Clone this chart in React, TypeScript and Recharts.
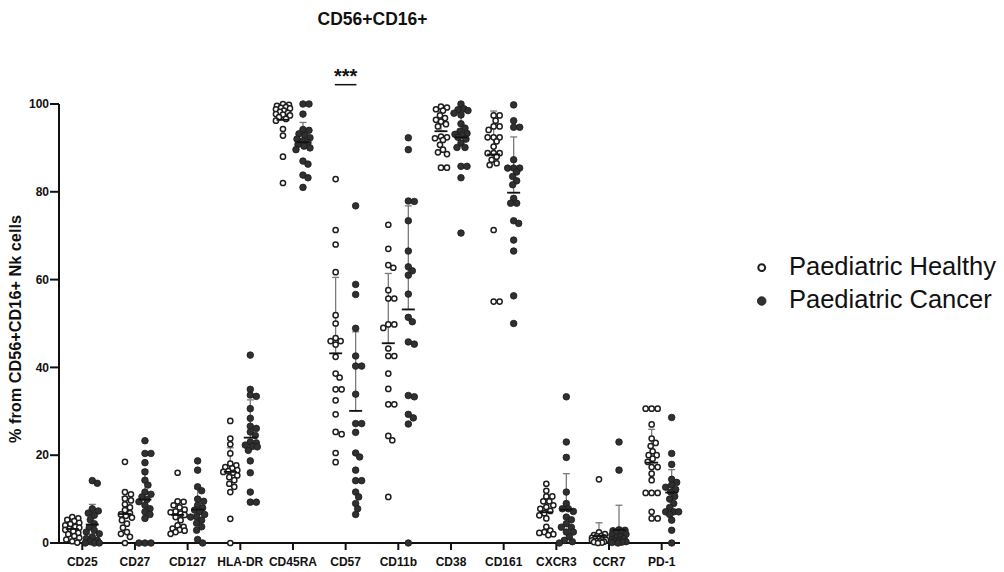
import React from 'react';
import { ScatterChart, Scatter, XAxis, YAxis, ErrorBar, ReferenceLine } from 'recharts';

const categories = ['CD25', 'CD27', 'CD127', 'HLA-DR', 'CD45RA', 'CD57', 'CD11b', 'CD38', 'CD161', 'CXCR3', 'CCR7', 'PD-1'];
const seriesNames = ['Paediatric Healthy', 'Paediatric Cancer'];
const chartTitle = 'CD56+CD16+';
const yAxisLabel = '% from CD56+CD16+ Nk cells';
const yTicks = [0, 20, 40, 60, 80, 100];
const significanceLabel = '***';
const significanceCategory = 5;

const healthyValues: number[][] = [
  [5.9, 5.6, 5.3, 5.0, 4.6, 4.3, 4.0, 3.7, 3.5, 3.2, 3.0, 2.7, 2.3, 2.0, 1.6, 1.2, 0.8, 0.4, 0.1],
  [18.5, 11.6, 11.1, 10.1, 9.7, 8.8, 8.1, 7.5, 6.8, 6.5, 6.2, 5.8, 5.2, 4.4, 3.5, 2.5, 2.1, 1.4, 0],
  [16.0, 9.5, 9.4, 8.6, 8.1, 7.6, 7.2, 7.0, 6.7, 6.4, 5.9, 5.2, 4.0, 3.7, 3.3, 3.0, 2.8, 2.5, 2.1],
  [27.8, 23.8, 22.5, 20.4, 18.1, 17.7, 17.3, 17.0, 16.6, 16.4, 16.2, 16.0, 15.4, 15.0, 14.3, 13.5, 12.8, 11.6, 5.5, 0],
  [100, 99.8, 99.6, 99.3, 99.1, 99.0, 98.8, 98.5, 98.2, 98.0, 97.7, 97.6, 97.4, 97.0, 96.6, 96.2, 94.3, 92.8, 88.0, 82.0],
  [82.9, 71.3, 68.0, 61.7, 51.9, 50.0, 46.7, 46.0, 46.0, 45.2, 42.4, 38.6, 37.7, 35.0, 35.0, 32.5, 29.3, 25.3, 24.8, 20.5, 18.4],
  [72.5, 67.0, 63.3, 62.7, 57.6, 55.7, 55.7, 49.8, 49.8, 49.0, 44.3, 42.6, 42.6, 38.6, 35.1, 31.6, 31.6, 24.4, 23.4, 10.5],
  [99.4, 99.2, 98.8, 98.5, 97.4, 96.8, 96.4, 96.0, 95.4, 94.9, 92.6, 92.4, 92.2, 91.8, 90.7, 89.6, 89.0, 88.6, 85.5, 85.5],
  [97.4, 97.4, 96.2, 94.9, 94.9, 94.1, 92.4, 92.4, 92.4, 91.5, 90.3, 88.8, 88.8, 88.8, 88.0, 87.3, 86.5, 86.1, 71.3, 55.0, 55.0],
  [13.5, 11.9, 10.6, 10.6, 9.5, 9.5, 8.6, 8.2, 7.8, 7.3, 6.8, 6.3, 5.6, 3.7, 2.8, 2.5, 2.3, 2.0, 1.8],
  [14.5, 2.4, 2.0, 1.8, 1.6, 1.5, 1.3, 1.2, 1.0, 0.9, 0.8, 0.7, 0.6, 0.5, 0.4, 0.3, 0.2, 0.1, 0],
  [30.6, 30.6, 30.6, 27.0, 23.8, 22.8, 22.1, 20.9, 20.0, 20.0, 19.2, 18.5, 17.3, 17.3, 15.8, 14.3, 11.4, 11.4, 11.4, 7.1, 5.6, 5.6],
];

const cancerValues: number[][] = [
  [14.2, 13.6, 7.8, 7.3, 6.8, 6.3, 5.3, 4.4, 3.6, 2.9, 2.5, 2.1, 1.4, 1.0, 0.6, 0.3, 0, 0, 0],
  [23.3, 20.4, 20.4, 18.3, 16.2, 14.3, 13.2, 11.6, 11.1, 10.5, 9.9, 9.4, 8.6, 7.8, 7.1, 6.5, 5.6, 0, 0, 0],
  [18.7, 16.6, 12.8, 11.9, 10.0, 9.5, 8.6, 8.0, 7.5, 7.1, 6.5, 6.0, 5.9, 5.2, 4.5, 3.7, 2.9, 0.8, 0],
  [42.8, 35.0, 33.7, 33.4, 30.6, 28.4, 26.6, 26.1, 25.3, 24.5, 23.0, 22.8, 22.3, 22.0, 21.9, 21.1, 18.7, 16.0, 11.6, 9.3, 9.3],
  [100, 100, 97.7, 94.2, 94.0, 93.2, 92.8, 92.3, 92.0, 91.6, 91.2, 90.8, 90.4, 90.0, 89.6, 87.0, 86.3, 83.8, 83.2, 81.0],
  [76.8, 58.9, 56.6, 48.9, 42.6, 40.3, 40.3, 33.9, 27.2, 27.2, 25.2, 20.5, 19.6, 16.6, 14.2, 14.2, 11.6, 10.5, 9.0, 7.8, 6.5],
  [92.3, 89.6, 77.9, 77.8, 73.4, 66.5, 62.9, 62.0, 61.0, 56.7, 51.4, 50.4, 45.8, 45.3, 33.6, 33.3, 29.3, 28.5, 27.1, 0],
  [100, 98.9, 98.7, 98.5, 97.9, 97.5, 95.5, 94.5, 93.8, 93.3, 93.1, 92.9, 92.4, 92.0, 91.1, 90.1, 90.1, 85.8, 85.8, 83.2, 70.6],
  [99.8, 96.2, 94.7, 94.7, 87.3, 85.4, 85.4, 85.4, 84.5, 83.5, 82.5, 81.6, 78.5, 77.4, 77.4, 73.4, 72.8, 69.0, 66.5, 56.3, 50.0],
  [33.3, 23.0, 19.5, 11.6, 9.0, 7.8, 7.8, 7.2, 5.9, 5.3, 4.4, 3.6, 3.6, 2.5, 2.5, 1.4, 0.6, 0.3, 0],
  [23.0, 16.6, 3.0, 2.9, 2.8, 2.6, 2.3, 2.0, 1.8, 1.5, 1.2, 1.0, 0.8, 0.6, 0.4, 0.3, 0.2, 0.1, 0],
  [28.6, 20.4, 17.9, 14.5, 13.8, 13.2, 12.7, 12.2, 11.6, 10.6, 10.0, 9.0, 8.1, 7.1, 7.1, 7.1, 6.5, 5.2, 2.9, 0],
];

const healthyMean = [3.2, 6.6, 6.4, 16.2, 96.4, 43.2, 45.5, 93.8, 88.5, 7.0, 1.6, 18.3];
const healthySD = [1.9, 3.9, 3.0, 5.5, 3.6, 17.3, 15.9, 4.5, 9.9, 3.3, 3.0, 7.6];
const cancerMean = [4.2, 9.9, 7.6, 24.0, 91.3, 30.1, 53.2, 92.4, 79.8, 7.6, 3.0, 11.5];
const cancerSD = [4.6, 6.7, 4.8, 8.6, 4.5, 18.0, 23.6, 5.5, 12.7, 8.2, 5.6, 5.2];

// layout constants
const FONT = '"Liberation Sans", Arial, Helvetica, sans-serif';
const GROUP_OFFSET = 0.19;
const PX_PER_X = 52.67;
const PX_PER_Y = 4.385;

type Pt = { x: number; y: number };

function beeswarm(values: number[], center: number): Pt[] {
  const D = 5.5;
  const MAXW = 7;
  const cands: number[] = [0];
  for (let k = 1; k <= MAXW; k++) cands.push(k, -k);
  const placed: { dx: number; py: number }[] = [];
  const out: Pt[] = [];
  const order = values.map((v, i) => ({ v, i })).sort((a, b) => b.v - a.v);
  for (const { v } of order) {
    const py = v * PX_PER_Y;
    let chosen = 0;
    let bestScore = -1;
    for (const dx of cands) {
      let m = Infinity;
      for (const p of placed) {
        const d = Math.hypot(p.dx - dx, p.py - py);
        if (d < m) m = d;
      }
      if (m >= D) {
        chosen = dx;
        break;
      }
      if (m > bestScore) {
        bestScore = m;
        chosen = dx;
      }
    }
    placed.push({ dx: chosen, py });
    out.push({ x: center + chosen / PX_PER_X, y: v });
  }
  return out;
}

const healthyPoints: Pt[] = categories.flatMap((_, i) => beeswarm(healthyValues[i], i - GROUP_OFFSET));
const cancerPoints: Pt[] = categories.flatMap((_, i) => beeswarm(cancerValues[i], i + GROUP_OFFSET));
const healthyStats = categories.map((_, i) => ({ x: i - GROUP_OFFSET, y: healthyMean[i], err: [0, healthySD[i]] }));
const cancerStats = categories.map((_, i) => ({ x: i + GROUP_OFFSET, y: cancerMean[i], err: [0, cancerSD[i]] }));
const statsAll = [...healthyStats, ...cancerStats];

const OpenDot = (props: any) => (
  <circle cx={props.cx} cy={props.cy} r={2.6} fill="#ffffff" stroke="#1e1e1e" strokeWidth={1.5} />
);
const FilledDot = (props: any) => (
  <circle cx={props.cx} cy={props.cy} r={3.3} fill="#303030" stroke="#1a1a1a" strokeWidth={0.8} />
);
const MeanMark = (props: any) => (
  <line x1={props.cx - 6.5} x2={props.cx + 6.5} y1={props.cy} y2={props.cy} stroke="#111" strokeWidth={1.8} />
);
const NoMark = () => <g />;

const tickStyle = { fill: '#111', fontSize: 12, fontWeight: 700, fontFamily: FONT };

export default function App() {
  return (
    <div style={{ position: 'absolute', left: 0, top: 0, width: 1004, height: 572, background: '#fff' }}>
      <ScatterChart width={1004} height={572} margin={{ top: 104, right: 324, bottom: 0, left: 0 }}>
        <XAxis
          type="number"
          dataKey="x"
          domain={[-0.442, 11.348]}
          ticks={categories.map((_, i) => i)}
          tickFormatter={(v: number) => categories[Math.round(v)] ?? ''}
          interval={0}
          height={29}
          tickSize={7}
          tickMargin={7}
          axisLine={{ stroke: '#111', strokeWidth: 2 }}
          tickLine={{ stroke: '#111', strokeWidth: 2 }}
          tick={tickStyle}
        />
        <YAxis
          type="number"
          dataKey="y"
          domain={[0, 100]}
          ticks={yTicks}
          interval={0}
          width={59}
          tickSize={9}
          tickMargin={1}
          axisLine={{ stroke: '#111', strokeWidth: 2 }}
          tickLine={{ stroke: '#111', strokeWidth: 2 }}
          tick={tickStyle}
        />
        <Scatter name={seriesNames[0]} data={healthyPoints} shape={OpenDot} isAnimationActive={false} />
        <Scatter name={seriesNames[1]} data={cancerPoints} shape={FilledDot} isAnimationActive={false} />
        <Scatter data={statsAll} shape={NoMark} isAnimationActive={false}>
          <ErrorBar dataKey="err" direction="y" width={3.5} stroke="#7a7a7a" strokeWidth={1.3} />
        </Scatter>
        <Scatter data={statsAll} shape={MeanMark} isAnimationActive={false} />
        <ReferenceLine
          segment={[
            { x: significanceCategory - 0.205, y: 104.4 },
            { x: significanceCategory + 0.205, y: 104.4 },
          ]}
          ifOverflow="visible"
          stroke="#111"
          strokeWidth={1.5}
          label={{ value: significanceLabel, position: 'top', offset: 1.5, fontSize: 20, fontWeight: 700, fill: '#111', fontFamily: FONT }}
        />
      </ScatterChart>
      <svg
        width={1004}
        height={572}
        style={{ position: 'absolute', left: 0, top: 0, pointerEvents: 'none' }}
      >
        <text x={372.5} y={25} textAnchor="middle" fontSize={17.5} fontWeight={700} fontFamily={FONT} fill="#111">
          {chartTitle}
        </text>
        <text
          transform="translate(21,329) rotate(-90)"
          textAnchor="middle"
          fontSize={16.3}
          fontWeight={700}
          fontFamily={FONT}
          fill="#111"
        >
          {yAxisLabel}
        </text>
        <circle cx={761.7} cy={267.7} r={3.4} fill="#fff" stroke="#1e1e1e" strokeWidth={2} />
        <text x={789} y={275} fontSize={25.5} fontFamily={FONT} fill="#111">
          {seriesNames[0]}
        </text>
        <circle cx={761.7} cy={301} r={4.3} fill="#303030" stroke="#1a1a1a" strokeWidth={0.8} />
        <text x={789} y={308.3} fontSize={25.5} fontFamily={FONT} fill="#111">
          {seriesNames[1]}
        </text>
      </svg>
    </div>
  );
}
